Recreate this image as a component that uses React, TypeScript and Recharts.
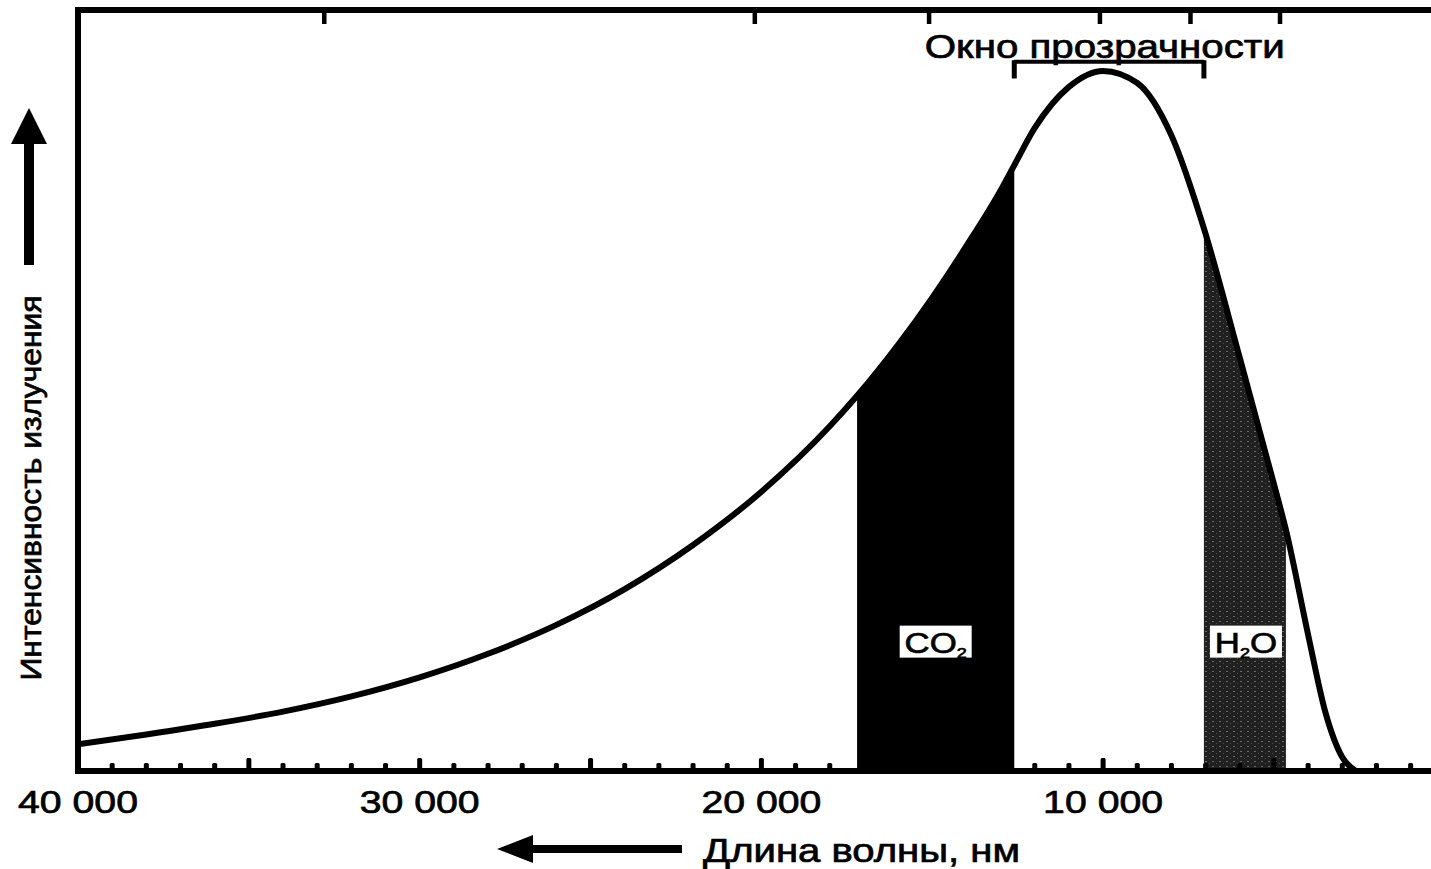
import {
  Area,
  ComposedChart,
  Line,
  ReferenceDot,
  ReferenceLine,
  XAxis,
  YAxis,
} from "recharts";

// wavelength (nm), long waves on the left
const wavelengths = [
  40000, 38000, 36000, 34000, 32000, 30000, 28000, 26000, 24000, 22000, 20000, 18000,
  17200, 16000, 15000, 14000, 13000, 12600, 12000, 11000, 10000, 9000, 8000, 7050,
  6000, 5000, 4650, 4000, 3500, 3000, 2600,
];
const intensity = [
  3.5, 4.8, 6.2, 7.8, 9.8, 12.3, 15.4, 19.2, 23.9, 29.7, 36.7, 45.3,
  49.3, 56.0, 62.2, 69.0, 76.3, 79.6, 84.5, 89.9, 92.0, 90.4, 83.5, 71.3,
  54.3, 37.7, 31.7, 17.9, 7.8, 1.8, 0,
];
const co2Band = [17200, 12600];
const h2oBand = [7050, 4650];
const windowBand = [12600, 7050];
const labelTicks = [40000, 30000, 20000, 10000];
const topTicks = [32800, 20200, 15100, 10100, 7450, 4830];
const minorTicks = Array.from({ length: 40 }, (_, i) => 40000 - i * 1000);

const inBand = (w: number, band: number[]) => w <= band[0] && w >= band[1];

const data = wavelengths.map((w, i) => ({
  w,
  v: intensity[i],
  co2: inBand(w, co2Band) ? intensity[i] : null,
  h2o: inBand(w, h2oBand) ? intensity[i] : null,
}));

const FONT = "'Liberation Sans', Arial, sans-serif";
// the scan is a bit heavy, give glyphs a thin outline
const ink = { fill: "#000", stroke: "#000", strokeWidth: 0.7 };

function BottomTick(props: any) {
  const { x, y, payload } = props;
  const v = payload.value as number;
  const h = v % 5000 === 0 ? 10 : 5;
  return (
    <g>
      {v !== 40000 && <rect x={x - 2.5} y={y - 3 - h} width={5} height={h + 1} rx={1.5} fill="#000" />}
      {labelTicks.includes(v) && (
        <text
          x={x}
          y={y + 42}
          textAnchor="middle"
          fontFamily={FONT}
          fontSize={32}
          textLength={120}
          lengthAdjust="spacingAndGlyphs"
          {...ink}
        >
          {`${v / 1000} 000`}
        </text>
      )}
    </g>
  );
}

function TopTick(props: any) {
  const { x, y } = props;
  return <rect x={x - 2} y={y} width={4.5} height={14} fill="#000" />;
}

function GasLabel({ cx, cy, gas }: { cx: number; cy: number; gas: "co2" | "h2o" }) {
  return (
    <g>
      <rect x={cx - 36} y={cy - 16} width={72} height={32} fill="#fff" />
      <g transform={`translate(${cx} ${cy + 11}) scale(1.2 1)`}>
        <text x={0} y={0} textAnchor="middle" fontFamily={FONT} fontSize={29} {...ink}>
          {gas === "co2" ? (
            <>
              CO<tspan fontSize={15} dy={5}>2</tspan>
            </>
          ) : (
            <>
              H<tspan fontSize={15} dy={5}>2</tspan>
              <tspan dy={-5}>O</tspan>
            </>
          )}
        </text>
      </g>
    </g>
  );
}

function XTitle() {
  return (
    <g>
      <polygon points="497,849 533,835 533,863" fill="#000" />
      <rect x={530} y={845} width={152} height={8} fill="#000" />
      <text
        x={703}
        y={862}
        fontFamily={FONT}
        fontSize={33}
        textLength={317}
        lengthAdjust="spacingAndGlyphs"
        {...ink}
      >
        Длина волны, нм
      </text>
    </g>
  );
}

function YTitle() {
  return (
    <g>
      <polygon points="29,108 11,144 47,144" fill="#000" />
      <rect x={24} y={142} width={10} height={123} fill="#000" />
      <text
        x={41}
        y={488}
        transform="rotate(-90 41 488)"
        textAnchor="middle"
        fontFamily={FONT}
        fontSize={30}
        textLength={385}
        lengthAdjust="spacingAndGlyphs"
        {...ink}
      >
        Интенсивность излучения
      </text>
    </g>
  );
}

export default function App() {
  const domain: [number, number] = [404, 40000];
  const frame = { stroke: "#000", strokeWidth: 6, strokeLinecap: "square" as const };
  return (
    <div style={{ position: "absolute", left: 0, top: 0, background: "#fff" }}>
      <ComposedChart
        width={1431}
        height={869}
        data={data}
        margin={{ top: 9, right: 0, left: 77, bottom: 0 }}
      >
        <defs>
          <pattern id="h2oTex" patternUnits="userSpaceOnUse" width={7} height={5}>
            <rect width={7} height={5} fill="#202020" />
            <rect x={1} y={1} width={2} height={1} fill="#6a6a6a" />
            <rect x={5} y={3} width={1} height={1} fill="#4c4c4c" />
          </pattern>
        </defs>
        <XAxis
          dataKey="w"
          type="number"
          domain={domain}
          reversed
          allowDataOverflow
          ticks={minorTicks}
          interval={0}
          height={98}
          tickSize={0}
          tickMargin={0}
          tickLine={false}
          tick={<BottomTick />}
          axisLine={frame}
          label={{ content: () => <XTitle /> }}
        />
        <XAxis
          xAxisId="top"
          orientation="top"
          dataKey="w"
          type="number"
          domain={domain}
          reversed
          allowDataOverflow
          ticks={topTicks}
          interval={0}
          height={1}
          tickSize={0}
          tickMargin={0}
          tickLine={false}
          tick={<TopTick />}
          axisLine={frame}
        />
        <YAxis
          type="number"
          domain={[0, 100]}
          allowDataOverflow
          width={1}
          tick={false}
          tickLine={false}
          axisLine={frame}
          label={{ content: () => <YTitle /> }}
        />
        <Area
          type="monotone"
          dataKey="co2"
          stroke="none"
          fill="#000"
          fillOpacity={1}
          isAnimationActive={false}
        />
        <Area
          type="monotone"
          dataKey="h2o"
          stroke="none"
          fill="url(#h2oTex)"
          fillOpacity={1}
          isAnimationActive={false}
        />
        <Line
          type="monotone"
          dataKey="v"
          stroke="#000"
          strokeWidth={6}
          dot={false}
          isAnimationActive={false}
        />
        <ReferenceLine
          segment={[
            { x: windowBand[0], y: 93.2 },
            { x: windowBand[1], y: 93.2 },
          ]}
          stroke="#000"
          strokeWidth={4}
          ifOverflow="visible"
        />
        <ReferenceLine
          segment={[
            { x: windowBand[0], y: 93.4 },
            { x: windowBand[0], y: 91.0 },
          ]}
          stroke="#000"
          strokeWidth={5}
          ifOverflow="visible"
        />
        <ReferenceLine
          segment={[
            { x: windowBand[1], y: 93.4 },
            { x: windowBand[1], y: 91.0 },
          ]}
          stroke="#000"
          strokeWidth={5}
          ifOverflow="visible"
        />
        <ReferenceDot
          x={9950}
          y={93.7}
          ifOverflow="visible"
          shape={(p: any) => (
            <text
              x={p.cx}
              y={p.cy}
              textAnchor="middle"
              fontFamily={FONT}
              fontSize={33}
              textLength={360}
              lengthAdjust="spacingAndGlyphs"
              {...ink}
            >
              Окно прозрачности
            </text>
          )}
        />
        <ReferenceDot
          x={14900}
          y={17}
          ifOverflow="visible"
          shape={(p: any) => <GasLabel cx={p.cx} cy={p.cy} gas="co2" />}
        />
        <ReferenceDot
          x={5820}
          y={17}
          ifOverflow="visible"
          shape={(p: any) => <GasLabel cx={p.cx} cy={p.cy} gas="h2o" />}
        />
      </ComposedChart>
    </div>
  );
}
